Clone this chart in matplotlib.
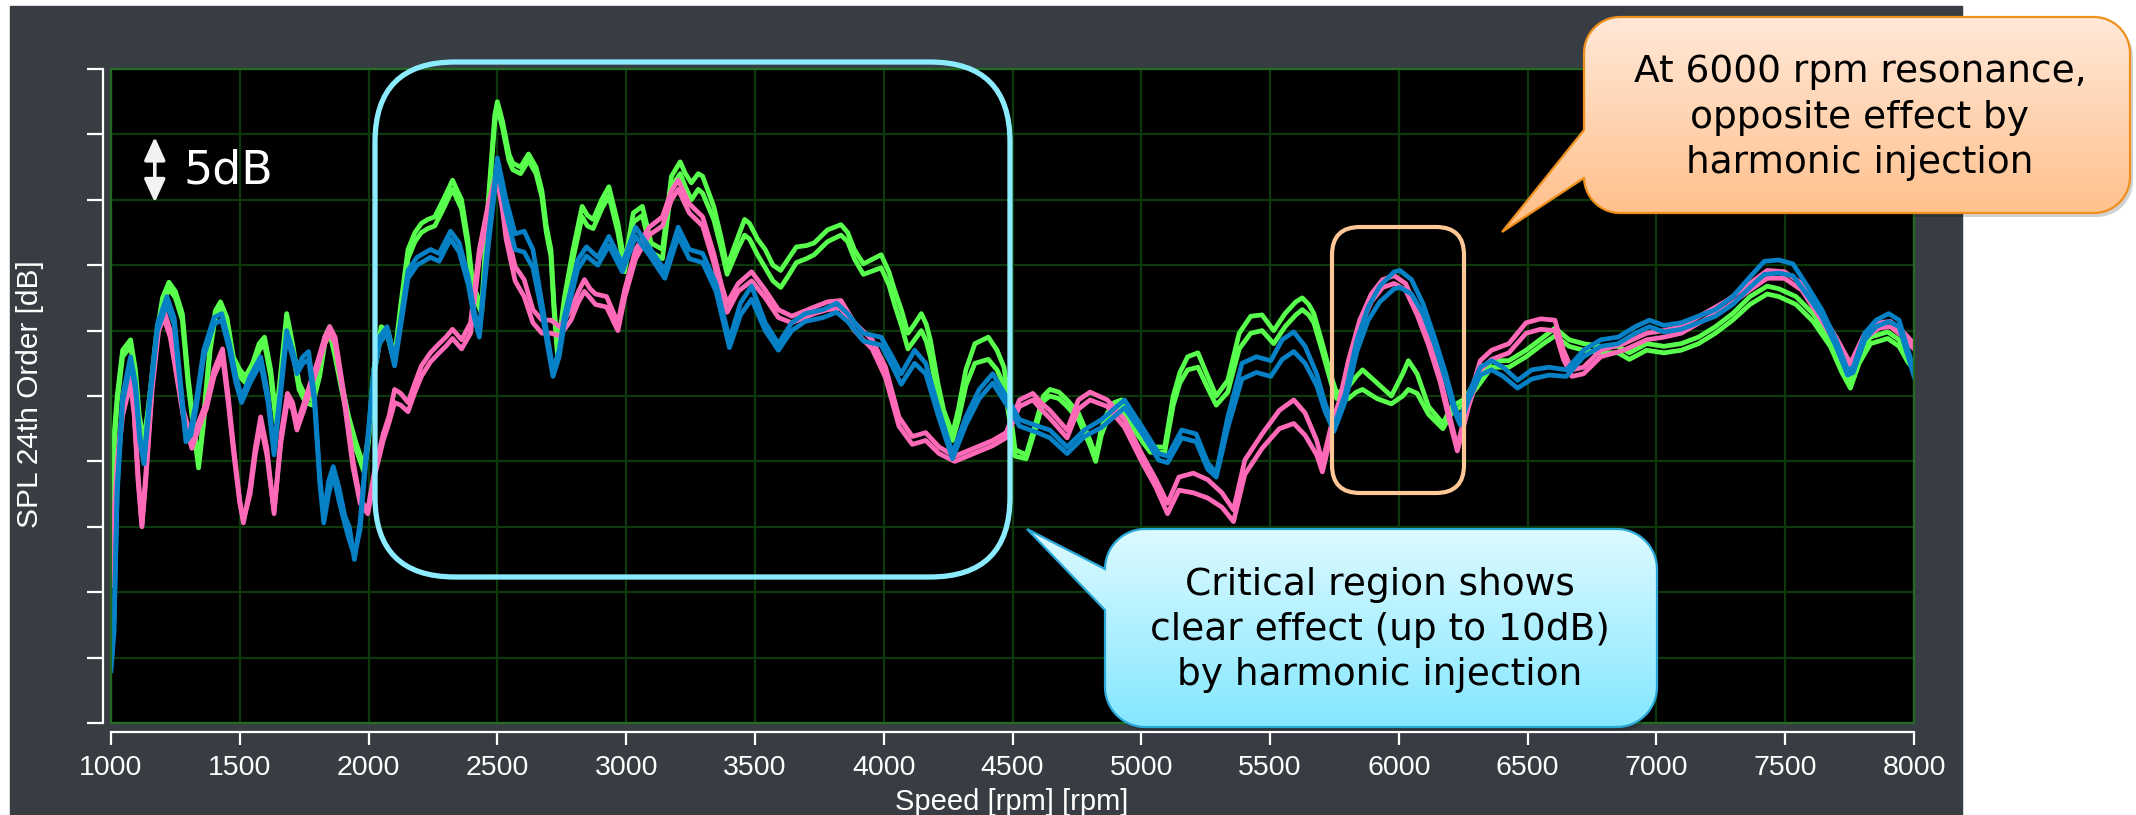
"""SPL of the 24th order vs. speed, with and without harmonic injection."""

import matplotlib
matplotlib.use("Agg")
import matplotlib.pyplot as plt
import numpy as np
from matplotlib.colors import LinearSegmentedColormap
from matplotlib.patches import FancyBboxPatch, Polygon, Rectangle

W, H = 2136, 815  # output size in pixels (dpi 100)

# ---- data: SPL in dB (relative, 5 dB per grid division), two runs per setup ----
GREEN_RPM = [
    1000, 1012, 1024, 1045, 1076, 1095, 1110, 1128, 1150, 1175,
    1200, 1225, 1250, 1277, 1299, 1320, 1340, 1360, 1385, 1405,
    1425, 1450, 1475, 1500, 1522, 1550, 1575, 1596, 1620, 1641,
    1660, 1682, 1705, 1730, 1755, 1782, 1810, 1830, 1849, 1870,
    1895, 1923, 1950, 1982, 2000, 2020, 2049, 2075, 2101, 2125,
    2153, 2180, 2205, 2230, 2257, 2290, 2326, 2361, 2385, 2404,
    2439, 2465, 2490, 2500, 2520, 2545, 2560, 2590, 2621, 2650,
    2673, 2690, 2708, 2720, 2734, 2760, 2794, 2829, 2850, 2872,
    2905, 2933, 2968, 2994, 3028, 3063, 3097, 3141, 3176, 3210,
    3230, 3253, 3280, 3297, 3340, 3370, 3392, 3435, 3460, 3479,
    3510, 3540, 3570, 3600, 3630, 3661, 3700, 3730, 3782, 3834,
    3860, 3886, 3921, 3990, 4020, 4042, 4070, 4094, 4120, 4146,
    4165, 4181, 4210, 4233, 4267, 4290, 4319, 4354, 4406, 4440,
    4467, 4490, 4510, 4553, 4597, 4620, 4645, 4680, 4712, 4756,
    4801, 4823, 4845, 4868, 4895, 4923, 4950, 4979, 5035, 5091,
    5124, 5150, 5180, 5220, 5258, 5291, 5336, 5380, 5425, 5469,
    5514, 5558, 5600, 5625, 5650, 5670, 5703, 5737, 5759, 5804,
    5835, 5859, 5915, 5971, 6015, 6037, 6071, 6115, 6171, 6205,
    6249, 6305, 6360, 6427, 6494, 6561, 6606, 6661, 6717, 6784,
    6851, 6895, 6962, 7029, 7096, 7163, 7229, 7296, 7363, 7430,
    7475, 7542, 7608, 7675, 7720, 7753, 7787, 7831, 7898, 7942,
    7976, 8000,
]
GREEN_RUN1 = [
    16, 22, 25, 28.5, 29.3, 27, 23.5, 21.5, 25, 29.5,
    32.5, 33.7, 33, 31.3, 26.5, 23, 19.9, 23.5, 29, 31.5,
    32.2, 31, 28, 27, 26.5, 27.5, 29, 29.5, 27, 23.4,
    27, 31.3, 29, 26, 25, 24.7, 27, 29.5, 30.3, 28.5,
    26, 23.4, 21.5, 19.6, 22, 27, 30.3, 30, 28, 32,
    36.2, 37.5, 38.2, 38.5, 38.7, 40, 41.5, 40, 37, 33.6,
    31.8, 40, 46.5, 47.5, 46, 43.5, 42.8, 42.5, 43.5, 42.5,
    40.7, 38, 36.2, 32, 28.5, 32.5, 36.2, 39.5, 38.8, 38.5,
    40, 41, 38.2, 35.1, 39, 39.5, 36.7, 36.2, 41.8, 42.9,
    42, 41.3, 42, 41.8, 39.5, 37, 34.9, 37.2, 38.5, 38.2,
    37, 36.2, 35, 34.6, 35.5, 36.4, 36.5, 36.7, 37.7, 38.1,
    37.5, 36.2, 35.1, 35.8, 34.5, 33.1, 31.5, 29.8, 30.5, 31.3,
    30.5, 29.3, 26, 23.9, 22.1, 24, 27, 29, 29.5, 28.5,
    27.2, 24, 20.9, 20.5, 23.4, 25, 25.5, 25.3, 24.7, 23.7,
    21.6, 20.4, 22.5, 23.7, 24.5, 24.7, 23.5, 22.7, 21.1, 21.1,
    25, 26.8, 28, 28.3, 26.5, 25, 26.2, 29.8, 31.1, 31.2,
    30, 31.3, 32.2, 32.5, 32, 31.3, 29, 26.5, 25.2, 25.7,
    26.5, 27, 26, 25, 26.7, 27.7, 26.7, 24.2, 22.9, 24.2,
    24.7, 26.2, 27.7, 27.7, 28.5, 29.5, 30.2, 29.3, 29, 28.8,
    28.8, 28.3, 29, 28.8, 29, 29.5, 30.3, 31.3, 32.6, 33.4,
    33.2, 32.6, 31.3, 29.3, 27.2, 26, 28, 29.5, 29.9, 29.3,
    28, 27.5,
]
GREEN_RUN2 = [
    16, 21, 24.5, 28, 28.8, 26.5, 23, 21.8, 24.5, 29,
    32, 33.2, 32.5, 30.8, 26, 22.5, 19.5, 23, 28.5, 31,
    31.8, 30.5, 27.5, 26.5, 26, 27, 28.5, 29, 26.5, 23,
    26.5, 30.8, 28.5, 25.5, 24.5, 24.3, 26.5, 29, 29.8, 28,
    25.5, 23, 21, 19.2, 21.5, 26.5, 29.8, 29.5, 27.5, 31.5,
    35.5, 36.8, 37.5, 37.8, 38, 39.3, 40.8, 39.3, 36.5, 33,
    31.3, 39.5, 46, 47, 45.5, 43, 42.3, 42, 43, 42,
    40.2, 37.5, 35.7, 31.5, 28, 32, 35.5, 38.7, 38, 37.8,
    39.3, 40.3, 37.5, 34.5, 38.3, 38.8, 36, 35.5, 41, 42,
    41, 40, 40.8, 40.5, 38.5, 36.2, 34.3, 36.3, 37.3, 37,
    35.8, 34.8, 33.8, 33.3, 34.2, 35.2, 35.5, 35.8, 36.8, 37.3,
    36.8, 35.5, 34.3, 34.8, 33.5, 32, 30.3, 28.6, 29.3, 30,
    29.2, 28, 25, 23, 21.6, 23.2, 25.8, 27.5, 27.8, 27,
    25.8, 23, 20.4, 20.2, 23, 24.6, 25, 24.8, 24.2, 23.2,
    21.2, 20, 22, 23.2, 24, 24.2, 23, 22.2, 20.7, 20.7,
    24.3, 26, 27, 27.2, 25.6, 24.3, 25.3, 28.6, 29.8, 30,
    29, 30.3, 31.2, 31.6, 31.2, 30.6, 28.4, 26, 24.8, 24.8,
    25.3, 25.5, 24.8, 24.4, 25, 25.5, 25.2, 23.6, 22.5, 23.7,
    24.3, 25.7, 27.2, 27.2, 28, 29, 29.6, 28.8, 28.5, 28.3,
    28.3, 27.8, 28.5, 28.3, 28.5, 29, 29.8, 30.8, 32, 32.8,
    32.6, 32, 30.7, 28.8, 26.8, 25.6, 27.5, 29, 29.4, 28.8,
    27.6, 27,
]

PINK_RPM = [
    1000, 1012, 1024, 1045, 1076, 1090, 1105, 1120, 1135, 1160,
    1185, 1205, 1230, 1255, 1280, 1314, 1340, 1370, 1400, 1433,
    1455, 1477, 1500, 1514, 1540, 1560, 1581, 1605, 1633, 1660,
    1685, 1705, 1722, 1750, 1774, 1800, 1830, 1849, 1870, 1908,
    1940, 1967, 1997, 2025, 2057, 2080, 2101, 2125, 2153, 2180,
    2205, 2240, 2274, 2300, 2326, 2361, 2396, 2430, 2465, 2500,
    2520, 2534, 2569, 2604, 2638, 2673, 2708, 2742, 2786, 2815,
    2838, 2860, 2881, 2924, 2968, 2994, 3037, 3089, 3141, 3176,
    3202, 3245, 3297, 3340, 3370, 3392, 3435, 3487, 3540, 3591,
    3643, 3730, 3782, 3834, 3886, 3955, 4007, 4059, 4111, 4163,
    4215, 4276, 4337, 4423, 4475, 4527, 4579, 4610, 4645, 4712,
    4756, 4801, 4868, 4935, 5001, 5057, 5102, 5146, 5202, 5258,
    5313, 5358, 5402, 5469, 5536, 5592, 5636, 5681, 5703, 5737,
    5770, 5804, 5848, 5893, 5937, 5982, 6026, 6071, 6115, 6160,
    6194, 6227, 6271, 6316, 6360, 6427, 6494, 6550, 6606, 6639,
    6672, 6717, 6784, 6873, 6962, 7029, 7096, 7185, 7274, 7363,
    7430, 7497, 7564, 7631, 7697, 7753, 7809, 7865, 7909, 7953,
    8000,
]
PINK_RUN1 = [
    11, 16, 20, 24, 26.5, 24, 19, 15.1, 19, 26,
    30.5, 31.6, 30, 27, 24, 21.6, 23, 24.5, 27, 28.6,
    25, 20.9, 17, 15.3, 18, 21, 23.4, 21, 16, 22,
    25.2, 24.5, 22.9, 24.5, 26, 27.5, 29.5, 30.3, 29.5, 24.7,
    20, 17.1, 16.3, 19.5, 22.1, 23.5, 25.5, 25.2, 24.5, 26,
    27.3, 28.3, 29, 29.5, 30.1, 29.3, 30.6, 36.2, 39.7, 42.3,
    40, 37.9, 34.9, 33.9, 31.6, 30.8, 30.8, 30.3, 31.6, 33,
    33.9, 33.2, 32.8, 32.6, 30.6, 33.1, 36.2, 37.9, 38.7, 40.7,
    41.5, 39.7, 38.7, 35.9, 33.5, 32.1, 33.6, 34.5, 33.1, 31.6,
    31.1, 31.8, 32.2, 32.3, 30.6, 29.3, 27.2, 23.4, 21.9, 22.2,
    21.1, 20.4, 20.9, 21.6, 22.2, 24.7, 25.2, 24.5, 23.9, 22.4,
    24.7, 25.3, 24.7, 23.2, 20.6, 18.6, 16.8, 18.8, 19.1, 18.6,
    17.6, 16.3, 20.1, 22.1, 23.9, 24.7, 23.7, 21.6, 19.9, 22.7,
    24.7, 27.7, 30.8, 32.8, 33.9, 34.2, 33.6, 31.6, 29.3, 26.5,
    23.7, 21.1, 24.7, 27.7, 28.5, 29, 30.6, 30.9, 30.8, 28.5,
    27, 27.2, 28.5, 29, 29.8, 30, 30.3, 31.3, 32.3, 33.6,
    34.6, 34.5, 33.6, 31.6, 29.5, 27.5, 29.8, 30.6, 30.7, 30,
    29,
]
PINK_RUN2 = [
    10.5, 15.5, 19.5, 23.5, 26, 23.5, 18.5, 15, 18.5, 25.5,
    30, 31, 29.5, 26.5, 23.5, 21, 22.5, 24, 26.5, 28,
    24.5, 20.5, 16.8, 15.5, 17.5, 20.5, 22.8, 20.5, 16.2, 21.5,
    24.6, 24, 22.4, 24, 25.5, 27, 29, 29.8, 29, 24.2,
    19.5, 16.8, 16, 19, 21.6, 23, 24.5, 24.3, 23.8, 25.3,
    26.5, 27.6, 28.3, 28.8, 29.4, 28.6, 29.8, 35.5, 39, 41.6,
    39.2, 37, 33.8, 32.6, 30.6, 29.8, 29.8, 29.6, 30.8, 32.2,
    33, 32.5, 32, 31.8, 30, 32.5, 35.5, 37.3, 38, 40,
    40.8, 39, 38, 35.2, 32.8, 31.4, 33, 33.8, 32.5, 31,
    30.6, 31.3, 31.6, 31.7, 30, 28.6, 26.4, 22.7, 21.3, 21.6,
    20.6, 20, 20.5, 21.2, 21.8, 24.2, 24.7, 24, 23.3, 21.8,
    24, 24.7, 24.2, 22.6, 20, 18, 16, 17.8, 17.6, 17.2,
    16.5, 15.4, 19, 21, 22.5, 22.9, 22, 20.5, 19.2, 22,
    24, 27, 30.2, 32.2, 33.3, 33.6, 33.1, 31.2, 28.9, 26.1,
    23.3, 20.8, 24.2, 27, 27.8, 28.3, 29.8, 30.1, 30, 27.8,
    26.5, 26.7, 28, 28.5, 29.3, 29.5, 29.8, 30.8, 31.8, 33.1,
    34, 34, 33.1, 31.1, 29, 27.2, 29.4, 30.2, 30.3, 29.6,
    28.6,
]

BLUE_RPM = [
    1000, 1012, 1024, 1045, 1076, 1095, 1112, 1128, 1150, 1180,
    1217, 1245, 1270, 1291, 1310, 1330, 1360, 1400, 1430, 1460,
    1485, 1507, 1540, 1581, 1610, 1633, 1655, 1682, 1705, 1722,
    1745, 1767, 1790, 1810, 1826, 1845, 1863, 1885, 1908, 1925,
    1945, 1967, 1985, 2000, 2020, 2042, 2072, 2101, 2130, 2153,
    2188, 2240, 2274, 2318, 2352, 2387, 2410, 2430, 2465, 2500,
    2534, 2569, 2604, 2638, 2673, 2699, 2716, 2740, 2760, 2812,
    2846, 2890, 2933, 2985, 3037, 3089, 3150, 3202, 3245, 3297,
    3349, 3401, 3444, 3487, 3540, 3591, 3643, 3695, 3765, 3817,
    3860, 3921, 3990, 4033, 4068, 4120, 4163, 4215, 4267, 4319,
    4371, 4423, 4475, 4527, 4597, 4645, 4712, 4779, 4846, 4935,
    5001, 5068, 5102, 5157, 5213, 5258, 5291, 5336, 5391, 5447,
    5503, 5547, 5592, 5636, 5681, 5714, 5748, 5792, 5837, 5881,
    5926, 5982, 6004, 6049, 6093, 6138, 6182, 6216, 6238, 6271,
    6316, 6360, 6405, 6461, 6516, 6583, 6650, 6717, 6784, 6851,
    6918, 6973, 7029, 7096, 7163, 7229, 7296, 7363, 7419, 7475,
    7530, 7586, 7642, 7697, 7742, 7764, 7809, 7853, 7902, 7942,
    8000,
]
BLUE_RUN1 = [
    4, 7, 18, 25, 28, 26, 22, 20.1, 25, 30.5,
    32.6, 31, 26, 21.9, 22.5, 24.5, 28.5, 31, 31.3, 29,
    26.5, 24.9, 26.5, 28, 25, 20.9, 25, 30, 28.5, 27.2,
    28, 28.4, 25, 19, 15.8, 18.5, 19.6, 18, 15.8, 15,
    12.5, 15.3, 19.5, 22.5, 27, 29.5, 30.3, 27.8, 31.5, 34.6,
    35.6, 36.2, 35.9, 37.6, 36.7, 34.1, 31.5, 30, 37.2, 43.2,
    40, 37.4, 37.6, 36.2, 32.1, 29, 27, 28.5, 31.1, 35.4,
    36.4, 35.6, 37.2, 35.1, 37.9, 36.4, 34.6, 37.9, 36.2, 35.9,
    33.6, 29.3, 32.1, 33.4, 30.6, 29, 30.6, 31.3, 31.6, 32.1,
    31.3, 29.8, 29.5, 28, 26.7, 28.5, 27.5, 23.9, 20.6, 23.4,
    25.5, 26.7, 25, 23.2, 22.7, 22.4, 21.1, 22.4, 23.2, 24.7,
    22.7, 20.6, 20.4, 22.4, 22.1, 19.9, 19.1, 23.4, 27.5, 28,
    27.7, 29.3, 29.9, 28.8, 26.7, 24.4, 22.7, 25.2, 29.3, 31.8,
    33.4, 34.5, 34.6, 33.9, 32.1, 29.5, 26.7, 24.2, 23.2, 25.2,
    27.2, 27.7, 27.2, 26.2, 27, 27.2, 27, 28.5, 29.3, 29.5,
    30.3, 30.8, 30.4, 30.6, 31.1, 31.6, 32.6, 34.1, 35.3, 35.4,
    35.1, 33.4, 31.6, 29.3, 27, 27.2, 29.8, 30.8, 31.3, 30.8,
    27,
]
BLUE_RUN2 = [
    4.5, 8, 17.5, 24.5, 27.5, 25.5, 21.5, 19.8, 24.5, 30,
    32, 30.5, 25.5, 21.5, 22, 24, 28, 30.5, 30.8, 28.5,
    26, 24.5, 26, 27.5, 24.5, 20.5, 24.5, 29.5, 28, 26.7,
    27.5, 27.8, 24.5, 18.5, 15.3, 17.5, 19, 17, 15.2, 14,
    12.8, 14.8, 19, 22, 26.5, 29, 29.8, 27.3, 31, 34,
    35, 35.6, 35.3, 37, 36, 33.5, 31, 29.5, 36.5, 42.5,
    39, 36.2, 36, 34.8, 31.4, 28.4, 26.5, 28, 30.5, 34.7,
    35.7, 35, 36.5, 34.5, 37.2, 35.8, 34, 37.2, 35.5, 35.2,
    33, 28.7, 31.2, 32.4, 30, 28.5, 30, 30.7, 31, 31.4,
    30.7, 29.2, 28.9, 27.3, 25.9, 27.5, 26.7, 23.3, 20.2, 22.8,
    24.8, 26, 24.4, 22.7, 22.2, 21.8, 20.6, 21.9, 22.6, 24.1,
    22.2, 20.1, 19.9, 21.8, 21.5, 19.4, 18.8, 22.6, 26.3, 26.8,
    26.5, 27.8, 28.4, 27.5, 25.8, 23.8, 22.3, 24.6, 28.4, 30.8,
    32.2, 33.2, 33.3, 32.8, 31.3, 29, 26.2, 23.8, 22.8, 24.7,
    26.6, 27, 26.5, 25.6, 26.3, 26.6, 26.5, 28, 28.8, 29,
    29.8, 30.3, 29.9, 30.1, 30.6, 31.1, 32, 33.3, 34.3, 34.4,
    34.2, 32.7, 31.1, 28.8, 26.6, 26.8, 29.3, 30.3, 30.7, 30.3,
    26.5,
]

SPEED_TICKS = list(range(1000, 8001, 500))
SPL_TICKS = list(range(0, 51, 5))

PANEL = "#373D43"
GRID = "#0C3A0C"
FRAME = "#236B23"
SERIES = [
    ("#58FF4C", GREEN_RPM, GREEN_RUN1, GREEN_RUN2),
    ("#FF6AB8", PINK_RPM, PINK_RUN1, PINK_RUN2),
    ("#0781C6", BLUE_RPM, BLUE_RUN1, BLUE_RUN2),
]


def bubble_vertices(x0, y0, x1, y1, r, tip, base_lo, base_hi, n=16):
    """Rounded box (pixel coords, y up) with a pointer leaving its left edge."""
    verts = []

    def arc(cx, cy, a0, a1):
        for t in np.radians(np.linspace(a0, a1, n)):
            verts.append((cx + r * np.cos(t), cy + r * np.sin(t)))

    arc(x1 - r, y1 - r, 90, 0)
    arc(x1 - r, y0 + r, 0, -90)
    arc(x0 + r, y0 + r, -90, -180)
    verts += [(x0, base_lo), tip, (x0, base_hi)]
    arc(x0 + r, y1 - r, 180, 90)
    return np.array(verts)


def draw_bubble(ov, verts, top_color, bottom_color, edge_color, lines, text_x, text_ys):
    shadow = Polygon(verts + np.array([3, -4]), closed=True, fc="black", ec="none",
                     alpha=0.18, zorder=6)
    ov.add_patch(shadow)
    xs, ys = verts[:, 0], verts[:, 1]
    cmap = LinearSegmentedColormap.from_list("grad", [top_color, bottom_color])
    grad = np.linspace(0, 1, 256).reshape(-1, 1)
    im = ov.imshow(grad, extent=(xs.min(), xs.max(), ys.min(), ys.max()), cmap=cmap,
                   aspect="auto", origin="upper", zorder=7, interpolation="bilinear")
    im.set_clip_path(Polygon(verts, closed=True, transform=ov.transData))
    ov.add_patch(Polygon(verts, closed=True, fill=False, ec=edge_color, lw=1.6, zorder=8))
    for line, y in zip(lines, text_ys):
        ov.text(text_x, y, line, ha="center", va="center", fontsize=27,
                family="DejaVu Sans", color="black", zorder=9)


def main() -> None:
    plt.rcParams["font.family"] = ["Liberation Sans", "DejaVu Sans"]
    fig = plt.figure(figsize=(W / 100, H / 100), dpi=100, facecolor="white")

    bg = fig.add_axes([0, 0, 1, 1], zorder=-1)
    bg.set_xlim(0, W)
    bg.set_ylim(0, H)
    bg.axis("off")
    bg.add_patch(Rectangle((10, 0), 1952, 809, color=PANEL))

    ax = fig.add_axes([111 / W, 92 / H, 1803 / W, 654 / H], zorder=1)
    ax.set_facecolor("black")
    for color, rpm, run1, run2 in SERIES:
        ax.plot(rpm, run1, color=color, lw=3.4, solid_joinstyle="round", zorder=3)
        ax.plot(rpm, run2, color=color, lw=3.4, solid_joinstyle="round", zorder=3)

    ax.set_xlim(1000, 8000)
    ax.set_ylim(0, 50)
    ax.set_xticks(SPEED_TICKS)
    ax.set_yticks(SPL_TICKS)
    ax.set_axisbelow(True)
    ax.grid(True, color=GRID, lw=1.6)
    ax.add_patch(Rectangle((0, 0), 1, 1, transform=ax.transAxes, fill=False,
                           ec=FRAME, lw=1.6, zorder=4, clip_on=False))

    for side in ("top", "right"):
        ax.spines[side].set_visible(False)
    ax.spines["left"].set_position(("outward", 6))
    ax.spines["left"].set_bounds(0, 50)
    ax.spines["bottom"].set_position(("outward", 6.5))
    for side in ("left", "bottom"):
        ax.spines[side].set_color("white")
        ax.spines[side].set_linewidth(1.6)
    ax.tick_params(axis="y", length=11.5, width=1.6, color="white", labelleft=False)
    ax.tick_params(axis="x", length=9.5, width=1.6, color="white",
                   labelcolor="white", labelsize=20.5, pad=7)

    fig.text(30 / W, 421 / H, "SPL 24th Order [dB]", rotation=90, ha="center",
             va="center", fontsize=21.5, color="white")
    fig.text(1012 / W, 13 / H, "Speed [rpm] [rpm]", ha="center", va="center",
             fontsize=21, color="white")

    # 5 dB scale marker
    ax.annotate("", xy=(1170, 44.8), xytext=(1170, 39.8),
                arrowprops=dict(arrowstyle="<|-|>,head_length=0.7,head_width=0.32",
                                color="#F2F2F2", lw=2.6, shrinkA=0, shrinkB=0,
                                mutation_scale=20))
    ax.text(1280, 42.2, "5dB", fontsize=33, color="white", va="center", ha="left",
            family="DejaVu Sans")

    # overlay in pixel coordinates for the highlight boxes and callouts
    ov = fig.add_axes([0, 0, 1, 1], zorder=5)
    ov.axis("off")
    ov.patch.set_alpha(0)

    ov.add_patch(FancyBboxPatch((375, 238), 635, 515,
                                boxstyle="round,pad=0,rounding_size=80",
                                fill=False, ec="#8CECFF", lw=3.8, zorder=6))
    ov.add_patch(FancyBboxPatch((1332, 322), 132, 266,
                                boxstyle="round,pad=0,rounding_size=28",
                                fill=False, ec="#FFC896", lw=3, zorder=6))

    orange = bubble_vertices(1584, 602, 2130, 798, 36, (1502, 583), 637, 685)
    draw_bubble(ov, orange, "#FFE8D8", "#FFBD86", "#F0901C",
                ["At 6000 rpm resonance,", "opposite effect by", "harmonic injection"],
                1860, [743, 697, 652])

    cyan = bubble_vertices(1105, 88, 1657, 286, 40, (1027, 286), 205, 246)
    draw_bubble(ov, cyan, "#DDFAFF", "#84E7FF", "#2AA8D8",
                ["Critical region shows", "clear effect (up to 10dB)", "by harmonic injection"],
                1380, [230, 185, 140])

    ov.set_xlim(0, W)
    ov.set_ylim(0, H)

    fig.savefig("out.png", dpi=100, facecolor="white")
    plt.close(fig)


if __name__ == "__main__":
    main()
